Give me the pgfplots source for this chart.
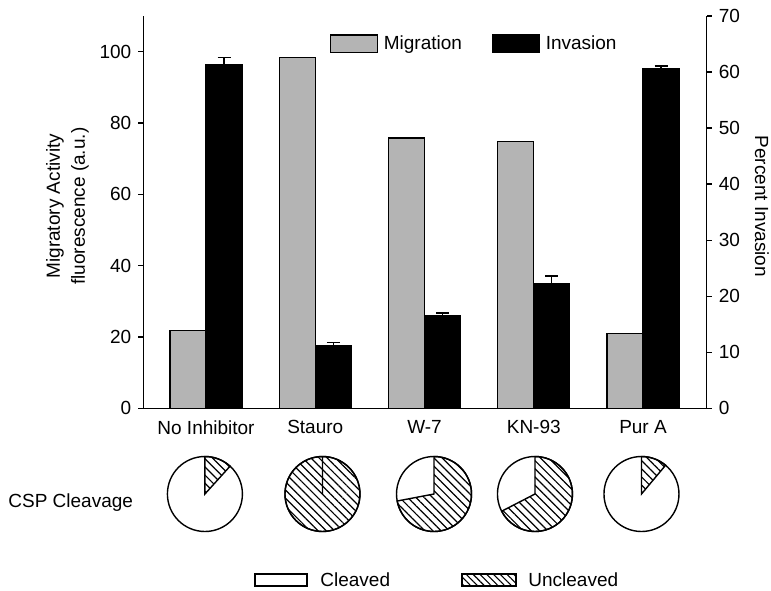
\documentclass[border=0pt]{standalone}
\usepackage{pgfplots}
\pgfplotsset{compat=1.18}
\usetikzlibrary{patterns.meta}
\usepackage{fontspec}
\setmainfont{Liberation Sans}
\definecolor{migr}{RGB}{180,180,180}

% pie: #1 = centre coordinate name, #2 = percent uncleaved
\newcommand{\pie}[2]{%
 \fill[white] (#1) circle[radius=18.75pt];
 \fill[pattern={Lines[angle=-45,distance=2.9pt,line width=0.6pt]}] (#1) -- ++(90:18.75pt) arc[start angle=90, delta angle=-3.6*#2, radius=18.75pt] -- cycle;
 \draw[line width=0.7pt] (#1) -- ++(90:18.75pt) arc[start angle=90, delta angle=-3.6*#2, radius=18.75pt] -- cycle;
 \draw[line width=0.7pt] (#1) circle[radius=18.75pt];
}

\begin{document}
\begin{tikzpicture}[font=\fontsize{9.5}{11.5}\selectfont]
\useasboundingbox (0,0) rectangle (385.5pt,295pt);

\begin{axis}[
  at={(71.65pt,90.85pt)}, anchor=south west,
  scale only axis, width=281.7pt, height=196.15pt,
  xmin=-0.574, xmax=4.583, ymin=0, ymax=110,
  axis x line*=bottom, axis y line*=left,
  axis line style={line width=0.65pt},
  every tick/.style={line width=0.65pt, black},
  tick align=outside, major tick length=2.5pt,
  xtick={0,1,2,3,4},
  xticklabels={No Inhibitor,Stauro,W-7,KN-93,Pur A},
  x tick style={draw=none},
  ytick={0,20,...,100},
  /pgf/number format/assume math mode=true,
  ylabel={Migratory Activity\\fluorescence (a.u.)},
  ylabel style={align=center, font=\fontsize{9.5}{12.5}\selectfont, at={(axis description cs:-0.1345,0.515)}, anchor=center},
  clip=false,
]
\addplot[ybar, bar width=0.33, bar shift=0, fill=migr, draw=black, line width=0.6pt]
  coordinates {(-0.165,21.8) (0.835,98.4) (1.835,75.8) (2.835,74.7) (3.835,20.9)};
\coordinate (p1) at (axis cs:-0.01,-24.03);
\coordinate (p2) at (axis cs:1.066,-24.03);
\coordinate (p3) at (axis cs:2.087,-24.03);
\coordinate (p4) at (axis cs:3.011,-24.03);
\coordinate (p5) at (axis cs:3.986,-24.03);
\end{axis}

\begin{axis}[
  at={(71.65pt,90.85pt)}, anchor=south west,
  scale only axis, width=281.7pt, height=196.15pt,
  xmin=-0.574, xmax=4.583, ymin=0, ymax=70,
  axis x line=none, axis y line*=right,
  axis line style={line width=0.65pt},
  every tick/.style={line width=0.65pt, black},
  tick align=outside, major tick length=2.5pt,
  ytick={0,10,...,70},
  /pgf/number format/assume math mode=true,
  ylabel={Percent Invasion},
  ylabel style={at={(axis description cs:1.098,0.515)}, anchor=center, rotate=180},
  legend columns=2,
  legend style={draw=none, fill=none, inner sep=0pt, outer sep=0pt,
    at={(axis description cs:0.3314,0.953)}, anchor=north west,
    nodes={inner sep=0pt, anchor=west},
    /tikz/every odd column/.append style={column sep=3pt},
    /tikz/every even column/.append style={column sep=15pt}},
]
\addlegendimage{legend image code/.code={\draw[fill=migr,draw=black,line width=0.6pt] (0pt,-4.4pt) rectangle (23.3pt,4.4pt);}}
\addlegendentry{Migration}
\addlegendimage{legend image code/.code={\draw[fill=black,draw=black,line width=0.6pt] (0pt,-4.4pt) rectangle (23.3pt,4.4pt);}}
\addlegendentry{Invasion}
\addplot[ybar, bar width=0.33, bar shift=0, fill=black, draw=black, line width=0.6pt, forget plot,
  error bars/.cd, y dir=plus, y explicit,
  error bar style={line width=0.6pt, black},
  error mark options={rotate=90, mark size=3.25pt, line width=0.6pt, black}]
  coordinates {(0.165,61.25) +- (0,1.3) (1.165,11.17) +- (0,0.6) (2.165,16.59) +- (0,0.42) (3.165,22.18) +- (0,1.42) (4.165,60.53) +- (0,0.55)};
\end{axis}

\pie{p1}{11.7}
\pie{p2}{100}
\pie{p3}{72.0}
\pie{p4}{67.4}
\pie{p5}{11.1}

% pie legend and row label
\node[anchor=west, inner sep=0pt] at (4pt,43.5pt) {CSP Cleavage};
\draw[line width=1pt, fill=white] (127.5pt,2pt) rectangle (153.5pt,8pt);
\node[anchor=west, inner sep=0pt] at (160pt,5pt) {Cleaved};
\draw[line width=1pt, pattern={Lines[angle=-45,distance=2.4pt,line width=0.55pt]}] (231pt,2pt) rectangle (258pt,8pt);
\node[anchor=west, inner sep=0pt] at (264pt,5pt) {Uncleaved};
\end{tikzpicture}
\end{document}
